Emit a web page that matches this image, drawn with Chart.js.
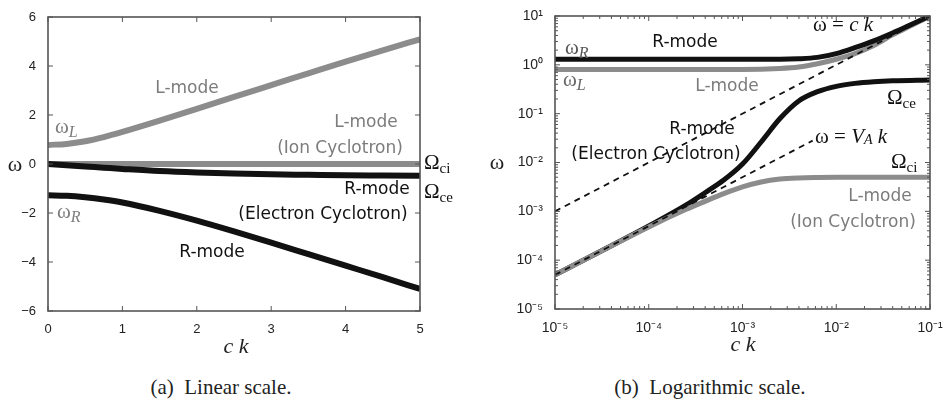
<!DOCTYPE html>
<html lang="en">
<head>
<meta charset="UTF-8">
<title>R / L mode dispersion</title>
<script src="https://cdn.jsdelivr.net/npm/chart.js"></script>
<style>
  * { margin: 0; padding: 0; box-sizing: border-box; }
  body { width: 950px; height: 403px; background: #fff; position: relative; overflow: hidden; }
  canvas { position: absolute; top: 0; }
  #linChart { left: 0; }
  #logChart { left: 475px; }
  .caption { position: absolute; top: 375px; width: 320px; text-align: center;
             font-family: 'Liberation Serif', serif; font-size: 21px; color: #222; white-space: pre; }
</style>
</head>
<body>
<canvas id="linChart" width="475" height="365"></canvas>
<canvas id="logChart" width="475" height="365"></canvas>
<div class="caption" style="left:61px">(a)  Linear scale.</div>
<div class="caption" style="left:550px">(b)  Logarithmic scale.</div>

<script>
// linear panel (x = c k)
const linCk      = [0, 0.25, 0.5, 0.75, 1, 1.5, 2, 2.5, 3, 3.5, 4, 4.5, 5];
const linLMode   = [0.78, 0.82, 0.93, 1.1, 1.31, 1.77, 2.25, 2.74, 3.22, 3.7, 4.18, 4.64, 5.09];
const linRMode   = [-1.28, -1.3, -1.36, -1.45, -1.57, -1.91, -2.31, -2.75, -3.21, -3.68, -4.15, -4.62, -5.1];
const linIonCyc  = [0, 0.005, 0.005, 0.005, 0.005, 0.005, 0.005, 0.005, 0.005, 0.005, 0.005, 0.005, 0.005];
const linElecCyc = [0, -0.05, -0.1, -0.15, -0.2, -0.29, -0.35, -0.39, -0.42, -0.44, -0.46, -0.47, -0.48];
const linXTicks  = [0, 1, 2, 3, 4, 5];
const linYTicks  = [-6, -4, -2, 0, 2, 4, 6];

// log panel
const upperK     = [1e-5, 1e-4, 1e-3, 2.51e-3, 3.98e-3, 6.31e-3, 0.01, 0.0158, 0.0251, 0.0398, 0.0631, 0.1];
const logRUpper  = [1.3, 1.3, 1.3, 1.3, 1.33, 1.42, 1.7, 2.25, 3.1, 4.5, 6.7, 10];
const logLUpper  = [0.8, 0.8, 0.8, 0.84, 0.9, 1.05, 1.3, 1.7, 2.5, 4.1, 6.4, 10];
const whistlerK  = [1e-5, 1e-4, 2.51e-4, 3.98e-4, 6.31e-4, 1e-3, 1.58e-3, 2.51e-3, 3.98e-3, 6.31e-3, 0.01, 0.0158, 0.0251, 0.0398, 0.1];
const logWhistler= [5e-5, 5e-4, 1.35e-3, 2.4e-3, 4.37e-3, 9.3e-3, 0.0263, 0.0794, 0.182, 0.282, 0.363, 0.417, 0.452, 0.473, 0.49];
const ionCycK    = [1e-5, 1e-4, 2.51e-4, 3.98e-4, 6.31e-4, 1e-3, 1.58e-3, 2.51e-3, 3.98e-3, 6.31e-3, 0.01, 0.1];
const logIonCyc  = [5e-5, 4.8e-4, 1.1e-3, 1.6e-3, 2.3e-3, 3.16e-3, 3.98e-3, 4.57e-3, 4.84e-3, 4.95e-3, 5e-3, 5e-3];
const lightK     = [1e-5, 0.1];
const lightW     = [1e-3, 10];
const alfvenK    = [1e-5, 5.6e-3];
const alfvenW    = [5e-5, 2.8e-2];
const logXTicks  = [1e-5, 1e-4, 1e-3, 1e-2, 1e-1];
const logYTicks  = [1e-5, 1e-4, 1e-3, 1e-2, 1e-1, 1, 10];

const GRAY = '#8c8c8c', GRAY_TXT = '#7c7c7c', BLACK = '#111';
const SANS = '"DejaVu Sans", sans-serif';
const SERIF = '"Liberation Serif", "DejaVu Serif", serif';

const pts = (xs, ys) => xs.map((x, i) => ({ x: x, y: ys[i] }));
const supDigits = { '0': '\u2070', '1': '\u00b9', '2': '\u00b2', '3': '\u00b3', '4': '\u2074', '5': '\u2075', '-': '\u207b' };
const pow10 = v => '10' + String(Math.round(Math.log10(v))).split('').map(c => supDigits[c]).join('');

function curve(data, color, order, width, dash) {
    return { data: data, borderColor: color, borderWidth: width, borderDash: dash || [],
             pointRadius: 0, fill: false, cubicInterpolationMode: 'monotone', order: order };
}

// box + inward ticks (log axes also get minor ticks)
const framePlugin = {
    id: 'frame',
    afterDatasetsDraw(chart, args, opts) {
        const { ctx, chartArea: a, scales } = chart;
        const line = (x1, y1, x2, y2) => { ctx.beginPath(); ctx.moveTo(x1, y1); ctx.lineTo(x2, y2); ctx.stroke(); };
        ctx.save();
        ctx.strokeStyle = '#555';
        ctx.lineWidth = 1;
        const xs = scales.x, ys = scales.y;
        const xMaj = xs.ticks.map(t => t.value), yMaj = ys.ticks.map(t => t.value);
        xMaj.forEach(v => { const p = xs.getPixelForValue(v); line(p, a.bottom, p, a.bottom - 5); line(p, a.top, p, a.top + 5); });
        yMaj.forEach(v => { const p = ys.getPixelForValue(v); line(a.left, p, a.left + 5, p); line(a.right, p, a.right - 5, p); });
        if (opts.minor) {
            const minors = maj => maj.slice(0, -1).flatMap(d => [2, 3, 4, 5, 6, 7, 8, 9].map(m => m * d));
            minors(xMaj).forEach(v => { const p = xs.getPixelForValue(v); line(p, a.bottom, p, a.bottom - 3); line(p, a.top, p, a.top + 3); });
            minors(yMaj).forEach(v => { const p = ys.getPixelForValue(v); line(a.left, p, a.left + 3, p); line(a.right, p, a.right - 3, p); });
        }
        ctx.lineWidth = 1.6;
        ctx.strokeRect(a.left, a.top, a.right - a.left, a.bottom - a.top);
        ctx.restore();
    }
};

// text notes: each note is a list of runs drawn left to right
const notesPlugin = {
    id: 'notes',
    afterDraw(chart, args, opts) {
        const ctx = chart.ctx;
        ctx.save();
        ctx.textBaseline = 'middle';
        opts.items.forEach(n => {
            const runs = n.runs;
            let w = 0;
            runs.forEach(r => { ctx.font = r.f; w += ctx.measureText(r.s).width; });
            let x = n.align === 'center' ? n.x - w / 2 : n.x;
            runs.forEach(r => {
                ctx.font = r.f;
                ctx.fillStyle = r.c || n.c;
                ctx.fillText(r.s, x, n.y + (r.dy || 0));
                x += ctx.measureText(r.s).width;
            });
        });
        ctx.restore();
    }
};

const txt = (s, x, y, c, align) => ({ runs: [{ s: s, f: '17px ' + SANS }], x: x, y: y, c: c, align: align || 'center' });
const sym = (base, sub, x, y, c, subItalic) => ({
    runs: [{ s: base, f: '21px ' + SERIF }, { s: sub, f: (subItalic ? 'italic 16px ' : '15px ') + SERIF, dy: 6 }],
    x: x, y: y, c: c, align: 'left' });
const axisTitle = (x, y) => ({ runs: [{ s: 'c k', f: 'italic 22px ' + SERIF }], x: x, y: y, c: '#222', align: 'center' });
const omega = (x, y) => ({ runs: [{ s: '\u03c9', f: '22px ' + SERIF }], x: x, y: y, c: '#222', align: 'center' });

const tickFont = { family: '"Liberation Sans", Arial, sans-serif', size: 13 };
const logTickFont = { family: '"Liberation Sans", Arial, sans-serif', size: 14 };

// ---------- (a) linear ----------
new Chart(document.getElementById('linChart'), {
    type: 'line',
    data: { datasets: [
        curve(pts(linCk, linLMode), GRAY, 2, 6),
        curve(pts(linCk, linIonCyc), GRAY, 2, 6),
        curve(pts(linCk, linRMode), BLACK, 1, 6),
        curve(pts(linCk, linElecCyc), BLACK, 1, 6)
    ] },
    options: {
        responsive: false, animation: false,
        layout: { padding: { left: 0, right: 55, top: 17, bottom: 24 } },
        plugins: {
            legend: { display: false }, tooltip: { enabled: false },
            frame: {},
            notes: { items: [
                txt('L-mode', 187, 89, GRAY_TXT),
                sym('\u03c9', 'L', 55, 127, GRAY_TXT, true),
                txt('L-mode', 366, 123, GRAY_TXT),
                txt('(Ion Cyclotron)', 340, 149, GRAY_TXT),
                sym('\u03a9', 'ci', 424, 163, BLACK),
                txt('R-mode', 377, 190, BLACK),
                sym('\u03a9', 'ce', 424, 192, BLACK),
                txt('(Electron Cyclotron)', 323, 215, BLACK),
                sym('\u03c9', 'R', 57, 212, GRAY_TXT, true),
                txt('R-mode', 212, 253, BLACK),
                omega(15, 165),
                axisTitle(236, 347)
            ] }
        },
        scales: {
            x: { type: 'linear', min: 0, max: 5,
                 afterBuildTicks: s => { s.ticks = linXTicks.map(v => ({ value: v })); },
                 afterFit: s => { s.height = 30; },
                 grid: { display: false }, border: { display: false },
                 ticks: { font: tickFont, color: '#222', padding: 3, maxRotation: 0 } },
            y: { type: 'linear', min: -6, max: 6,
                 afterBuildTicks: s => { s.ticks = linYTicks.map(v => ({ value: v })); },
                 afterFit: s => { s.width = 48; },
                 grid: { display: false }, border: { display: false },
                 ticks: { font: tickFont, color: '#222', padding: 4,
                          callback: v => v < 0 ? '\u2212' + Math.abs(v) : String(v) } }
        }
    },
    plugins: [framePlugin, notesPlugin]
});

// ---------- (b) logarithmic ----------
new Chart(document.getElementById('logChart'), {
    type: 'line',
    data: { datasets: [
        curve(pts(upperK, logLUpper), GRAY, 4, 5),
        curve(pts(upperK, logRUpper), BLACK, 3, 5),
        curve(pts(whistlerK, logWhistler), BLACK, 2, 5),
        curve(pts(ionCycK, logIonCyc), GRAY, 1, 5),
        curve(pts(lightK, lightW), BLACK, 0, 1.8, [6, 5]),
        curve(pts(alfvenK, alfvenW), BLACK, 0, 1.8, [6, 5])
    ] },
    options: {
        responsive: false, animation: false,
        layout: { padding: { left: 0, right: 20, top: 16, bottom: 26 } },
        plugins: {
            legend: { display: false }, tooltip: { enabled: false },
            frame: { minor: true },
            notes: { items: [
                sym('\u03c9', 'R', 90, 48, '#555', true),
                txt('R-mode', 210, 43, BLACK),
                sym('\u03c9', 'L', 88, 80, '#666', true),
                txt('L-mode', 252, 87, GRAY_TXT),
                { runs: [{ s: '\u03c9 = ', f: '21px ' + SERIF }, { s: 'c k', f: 'italic 21px ' + SERIF }], x: 338, y: 25, c: BLACK, align: 'left' },
                sym('\u03a9', 'ce', 412, 98, BLACK),
                txt('R-mode', 227, 130, BLACK),
                txt('(Electron Cyclotron)', 181, 155, BLACK),
                { runs: [{ s: '\u03c9 = ', f: '21px ' + SERIF }, { s: 'V', f: 'italic 21px ' + SERIF },
                         { s: 'A', f: 'italic 14px ' + SERIF, dy: 3 }, { s: ' k', f: 'italic 21px ' + SERIF }],
                  x: 340, y: 137, c: BLACK, align: 'left' },
                sym('\u03a9', 'ci', 416, 162, BLACK),
                txt('L-mode', 405, 197, GRAY_TXT),
                txt('(Ion Cyclotron)', 378, 223, GRAY_TXT),
                omega(22, 163),
                axisTitle(268, 345)
            ] }
        },
        scales: {
            x: { type: 'logarithmic', min: 1e-5, max: 1e-1,
                 afterBuildTicks: s => { s.ticks = logXTicks.map(v => ({ value: v })); },
                 afterFit: s => { s.height = 30; },
                 grid: { display: false }, border: { display: false },
                 ticks: { font: logTickFont, color: '#222', padding: 3, maxRotation: 0, callback: v => pow10(v) } },
            y: { type: 'logarithmic', min: 1e-5, max: 10,
                 afterBuildTicks: s => { s.ticks = logYTicks.map(v => ({ value: v })); },
                 afterFit: s => { s.width = 80; },
                 grid: { display: false }, border: { display: false },
                 ticks: { font: logTickFont, color: '#222', padding: 4, callback: v => pow10(v) } }
        }
    },
    plugins: [framePlugin, notesPlugin]
});
</script>
</body>
</html>
